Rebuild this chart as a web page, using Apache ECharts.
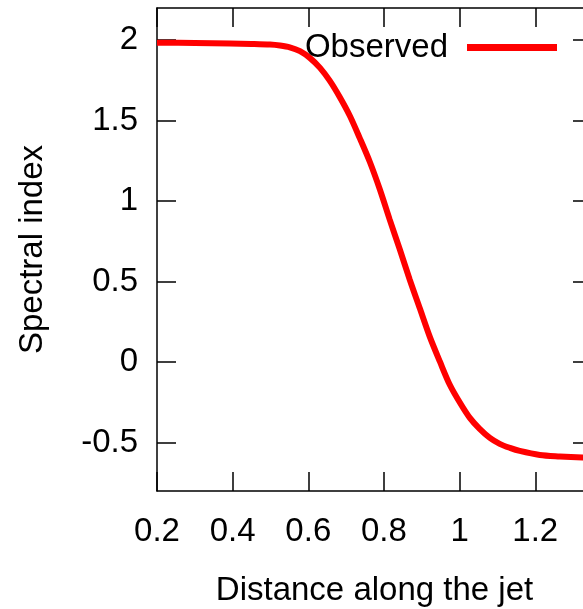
<!DOCTYPE html>
<html>
<head>
<meta charset="utf-8">
<script src="https://cdn.jsdelivr.net/npm/echarts@6/dist/echarts.min.js"></script>
<style>
  html, body { margin: 0; padding: 0; background: #fff; }
  #chart { width: 583px; height: 609px; }
</style>
</head>
<body>
<div id="chart"></div>
<script>
// Spectral index profile along the jet
const distance = [0.2, 0.3, 0.393, 0.45, 0.499, 0.525, 0.551, 0.578, 0.604, 0.631, 0.657, 0.683, 0.71, 0.736, 0.763,
  0.789, 0.815, 0.842, 0.868, 0.895, 0.921, 0.948, 0.974, 1.001, 1.027, 1.053, 1.08, 1.106, 1.133, 1.159,
  1.212, 1.265, 1.325, 1.35];
const spectralIndex = [1.984, 1.983, 1.98, 1.977, 1.973, 1.967, 1.956, 1.932, 1.89, 1.828, 1.747, 1.647, 1.529, 1.392, 1.242,
  1.074, 0.887, 0.7, 0.514, 0.333, 0.159, 0.003, -0.14, -0.252, -0.346, -0.414, -0.47, -0.507, -0.532, -0.551,
  -0.576, -0.585, -0.592, -0.593];

const xTicks = [0.2, 0.4, 0.6, 0.8, 1, 1.2];
const yTicks = [-0.5, 0, 0.5, 1, 1.5, 2];

const seriesName = 'Observed';
const xTitle = 'Distance along the jet';
const yTitle = 'Spectral index';

const FONT = '"Liberation Sans", Arial, sans-serif';
const FS = 33;
const axisLine = { show: true, onZero: false, lineStyle: { color: '#000', width: 1.5 } };
const tickStyle = { color: '#000', width: 1.5 };

const chart = echarts.init(document.getElementById('chart'), null, { renderer: 'canvas' });

chart.setOption({
  animation: false,
  backgroundColor: '#fff',
  grid: { left: 157, right: -9, top: 8, bottom: 118, containLabel: false, outerBoundsMode: 'none' },
  legend: {
    show: true,
    right: 21,
    top: 26,
    align: 'right',
    icon: 'rect',
    itemWidth: 90,
    itemHeight: 7,
    data: [seriesName],
    textStyle: { fontFamily: FONT, fontSize: FS, color: '#000', padding: [0, 14, 0, 0] }
  },
  xAxis: [
    {
      type: 'value', min: 0.2, max: 1.35, position: 'bottom',
      name: xTitle, nameLocation: 'middle', nameGap: 83,
      nameTextStyle: { fontFamily: FONT, fontSize: FS, color: '#000' },
      axisLine,
      axisTick: { show: true, inside: true, length: 19, customValues: xTicks, lineStyle: tickStyle },
      axisLabel: { show: true, customValues: xTicks, margin: 24, fontFamily: FONT, fontSize: FS, color: '#000' },
      splitLine: { show: false }
    },
    {
      type: 'value', min: 0.2, max: 1.35, position: 'top',
      axisLine,
      axisTick: { show: true, inside: true, length: 19, customValues: xTicks, lineStyle: tickStyle },
      axisLabel: { show: false },
      splitLine: { show: false }
    }
  ],
  yAxis: [
    {
      type: 'value', min: -0.8, max: 2.2, position: 'left',
      name: yTitle, nameLocation: 'middle', nameGap: 108,
      nameTextStyle: { fontFamily: FONT, fontSize: FS, color: '#000' },
      axisLine,
      axisTick: { show: true, inside: true, length: 19, customValues: yTicks, lineStyle: tickStyle },
      axisLabel: { show: true, customValues: yTicks, margin: 19, fontFamily: FONT, fontSize: FS, color: '#000' },
      splitLine: { show: false }
    },
    {
      type: 'value', min: -0.8, max: 2.2, position: 'right',
      axisLine,
      axisTick: { show: true, inside: true, length: 19, customValues: yTicks, lineStyle: tickStyle },
      axisLabel: { show: false },
      splitLine: { show: false }
    }
  ],
  series: [
    {
      name: seriesName,
      type: 'line',
      xAxisIndex: 0,
      yAxisIndex: 0,
      data: distance.map((d, i) => [d, spectralIndex[i]]),
      showSymbol: false,
      smooth: 0.3,
      lineStyle: { color: '#ff0000', width: 6 },
      itemStyle: { color: '#ff0000' }
    }
  ]
});
</script>
</body>
</html>
